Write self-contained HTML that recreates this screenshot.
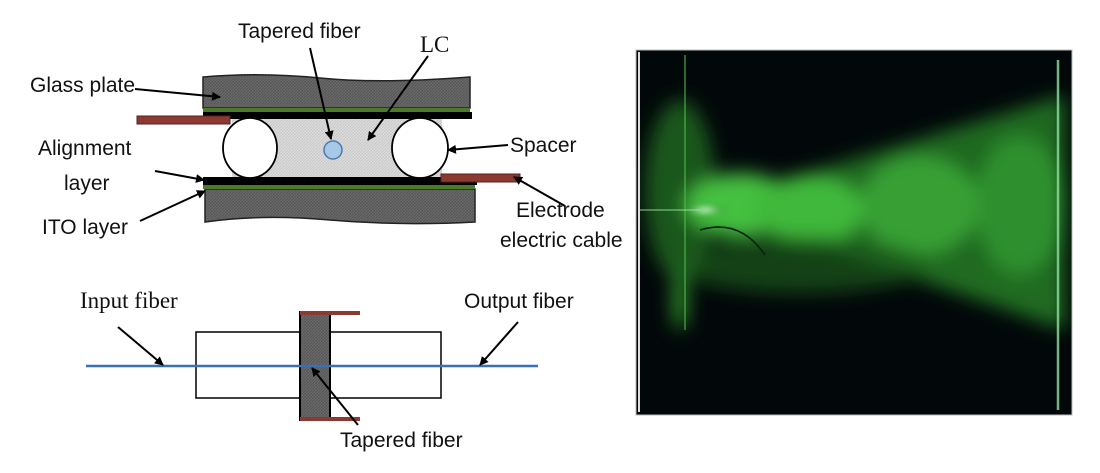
<!DOCTYPE html>
<html><head><meta charset="utf-8"><style>
body{margin:0;background:#fff;}
svg{display:block}
.s{font-family:"Liberation Sans",sans-serif;font-size:21px;fill:#111}
.r{font-family:"Liberation Serif",serif;font-size:23px;fill:#111}
</style></head><body>
<svg width="1100" height="473" viewBox="0 0 1100 473">
<defs>
<pattern id="h" width="3" height="3" patternUnits="userSpaceOnUse"><rect width="3" height="3" fill="#6a6a6a"/><path d="M0 3L3 0" stroke="#555" stroke-width="1"/></pattern>
<pattern id="l" width="3" height="3" patternUnits="userSpaceOnUse"><rect width="3" height="3" fill="#dcdcdc"/><path d="M0 3L3 0" stroke="#c8c8c8" stroke-width="1"/></pattern>
<marker id="a" markerWidth="9" markerHeight="9" refX="8" refY="4.5" orient="auto" markerUnits="userSpaceOnUse" viewBox="0 0 9 9"><path d="M0 0L9 4.5L0 9z" fill="#000"/></marker>
<radialGradient id="g2" cx="0.5" cy="0.5" r="0.5"><stop offset="0" stop-color="#f0fff4"/><stop offset="0.3" stop-color="#9fe89a"/><stop offset="1" stop-color="#1a6a1a" stop-opacity="0"/></radialGradient>
<filter id="b"><feGaussianBlur stdDeviation="9"/></filter>
<filter id="b2"><feGaussianBlur stdDeviation="3"/></filter>
<clipPath id="c"><rect x="637" y="51" width="434" height="363"/></clipPath>
</defs>
<!-- top diagram -->
<path d="M203 77 Q260 72 320 78 T470 77 L470 108 L203 108Z" fill="url(#h)" stroke="#222" stroke-width="1.5"/>
<path d="M205 189 L475 189 L475 222 Q400 226 330 220 T205 222Z" fill="url(#h)" stroke="#222" stroke-width="1.5"/>
<rect x="232" y="118" width="210" height="60" fill="url(#l)"/>
<rect x="203" y="108" width="267" height="4" fill="#4a7a2a"/>
<rect x="203" y="112" width="269" height="7" fill="#000"/>
<rect x="203" y="185" width="272" height="4" fill="#4a7a2a"/>
<rect x="203" y="177" width="274" height="8" fill="#000"/>
<rect x="137" y="116" width="93" height="8" fill="#8a3a30" stroke="#5a2020"/>
<rect x="441" y="174" width="79" height="8" fill="#8a3a30" stroke="#5a2020"/>
<ellipse cx="250" cy="148" rx="27" ry="30" fill="#fff" stroke="#000" stroke-width="1.8"/>
<ellipse cx="420" cy="148" rx="28" ry="30" fill="#fff" stroke="#000" stroke-width="1.8"/>
<circle cx="333" cy="150" r="9" fill="#a8c8e8" stroke="#4a7ab0" stroke-width="1.5"/>
<g stroke="#000" stroke-width="2" fill="none" marker-end="url(#a)">
<path d="M135 89L220 97"/><path d="M310 48L331 139"/><path d="M428 56L368 140"/>
<path d="M508 145L448 150"/><path d="M155 171L204 180"/><path d="M140 221L205 191"/><path d="M565 206L514 177"/>
</g>
<text class="s" x="238" y="38">Tapered fiber</text>
<text class="r" x="420" y="52">LC</text>
<text class="s" x="30" y="92">Glass plate</text>
<text class="s" x="510" y="152">Spacer</text>
<text class="s" x="38" y="155">Alignment</text>
<text class="s" x="64" y="190">layer</text>
<text class="s" x="42" y="234">ITO layer</text>
<text class="s" x="516" y="217">Electrode</text>
<text class="s" x="500" y="247">electric cable</text>
<!-- bottom diagram -->
<rect x="196" y="332" width="104" height="66" fill="#fff" stroke="#000" stroke-width="1.5"/>
<rect x="322" y="332" width="119" height="66" fill="#fff" stroke="#000" stroke-width="1.5"/>
<rect x="300" y="312" width="30" height="108" fill="url(#h)" stroke="#000" stroke-width="2"/>
<rect x="300" y="311" width="60" height="4" fill="#8a3a30"/>
<rect x="300" y="417" width="60" height="4" fill="#8a3a30"/>
<line x1="86" y1="366" x2="538" y2="366" stroke="#3a70b8" stroke-width="2.5"/>
<g stroke="#000" stroke-width="2" fill="none" marker-end="url(#a)">
<path d="M118 327L163 365"/><path d="M518 322L480 365"/><path d="M358 425L312 368"/>
</g>
<text class="r" x="80" y="308">Input fiber</text>
<text class="s" x="464" y="308">Output fiber</text>
<text class="s" x="340" y="447">Tapered fiber</text>
<!-- photo -->
<rect x="636" y="50" width="436" height="365" fill="#02080a" stroke="#bbb"/>
<g clip-path="url(#c)">
<g filter="url(#b)">
<ellipse cx="680" cy="190" rx="35" ry="90" fill="#1f6a1f" opacity="0.8"/>
<path d="M700 205 L1065 95 L1065 330 Z" fill="#2a8a28" opacity="0.75"/>
<path d="M700 210 L1000 300 L1065 330 L1065 280 Z" fill="#1f6e1f" opacity="0.6"/>
<ellipse cx="740" cy="205" rx="55" ry="32" fill="#45c040"/>
<ellipse cx="810" cy="210" rx="55" ry="35" fill="#40b83b"/>
<ellipse cx="920" cy="205" rx="60" ry="50" fill="#38a535" opacity="0.9"/>
<ellipse cx="1020" cy="205" rx="45" ry="70" fill="#33962f" opacity="0.85"/>
<ellipse cx="800" cy="265" rx="130" ry="28" fill="#1a5a1a" opacity="0.7"/>
<ellipse cx="680" cy="300" rx="8" ry="30" fill="#2a8a28"/>
</g>
<ellipse cx="705" cy="210" rx="24" ry="6" fill="url(#g2)" filter="url(#b2)"/>
<path d="M700 230 Q740 218 765 255" stroke="#0a200a" stroke-width="1.5" fill="none"/>
<line x1="685" y1="55" x2="685" y2="330" stroke="#4fc04a" stroke-width="1.5" opacity="0.7"/>
<line x1="1058" y1="60" x2="1058" y2="410" stroke="#8fe0a0" stroke-width="2.5" opacity="0.8"/>
<line x1="640" y1="210" x2="700" y2="210" stroke="#a0e8a0" stroke-width="1.2" opacity="0.7"/>
</g>
<line x1="639" y1="52" x2="639" y2="412" stroke="#ddd" stroke-width="2"/>
</svg>
</body></html>
